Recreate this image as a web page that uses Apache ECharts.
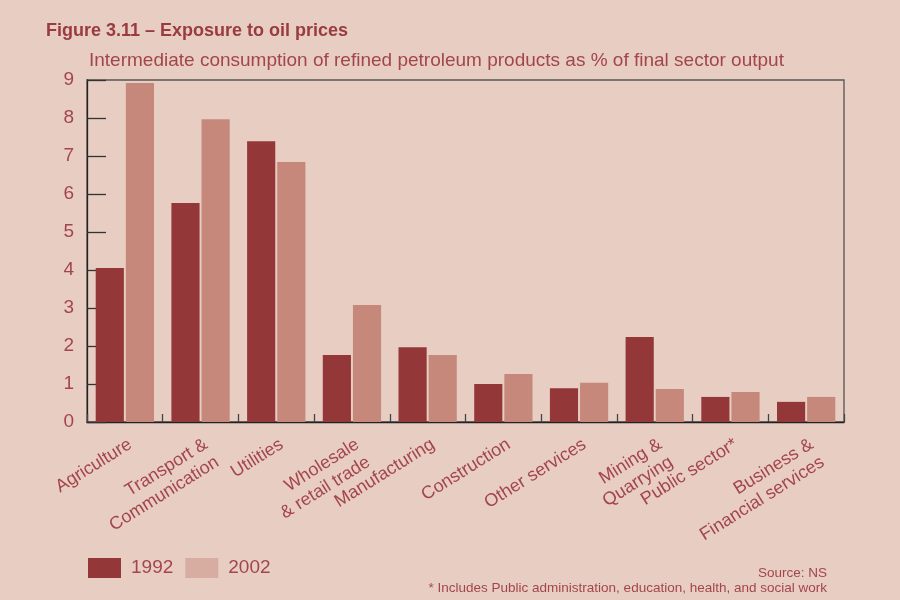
<!DOCTYPE html>
<html>
<head>
<meta charset="utf-8">
<script src="https://cdn.jsdelivr.net/npm/echarts@6/dist/echarts.min.js"></script>
<style>
  html, body { margin: 0; padding: 0; background: #e8cdc3; }
  #chart { width: 900px; height: 600px; }
</style>
</head>
<body>
<div id="chart"></div>
<script>
// Sectors along the category axis
const sectors = [
  'Agriculture',
  'Transport &\nCommunication',
  'Utilities',
  'Wholesale\n& retail trade',
  'Manufacturing',
  'Construction',
  'Other services',
  'Mining &\nQuarrying',
  'Public sector*',
  'Business &\nFinancial services'
];

// Refined petroleum consumption, % of final sector output
const values1992 = [4.05, 5.76, 7.39, 1.76, 1.97, 1.00, 0.89, 2.24, 0.66, 0.53];
const values2002 = [8.92, 7.97, 6.84, 3.08, 1.76, 1.26, 1.03, 0.87, 0.79, 0.66];

const yTicks = [0, 1, 2, 3, 4, 5, 6, 7, 8, 9];

const FONT = '"Liberation Sans", Arial, Helvetica, sans-serif';
const TEXT = '#a3464b';
const DARK_RED = '#943739';
const LIGHT_RED = '#c5887a';

const chart = echarts.init(document.getElementById('chart'));

chart.setOption({
  backgroundColor: '#e8cdc3',
  animation: false,
  textStyle: { fontFamily: FONT },
  title: [
    {
      text: 'Figure 3.11 – Exposure to oil prices',
      left: 41, top: 17,
      textStyle: { fontFamily: FONT, fontSize: 18, fontWeight: 'bold', color: '#993b3f' }
    },
    {
      text: 'Intermediate consumption of refined petroleum products as % of final sector output',
      left: 84, top: 46,
      textStyle: { fontFamily: FONT, fontSize: 19, fontWeight: 'normal', color: TEXT }
    },
    {
      text: 'Source: NS',
      right: 68, top: 561,
      textStyle: { fontFamily: FONT, fontSize: 13.5, fontWeight: 'normal', color: TEXT }
    },
    {
      text: '* Includes Public administration, education, health, and social work',
      right: 68, top: 576,
      textStyle: { fontFamily: FONT, fontSize: 13.5, fontWeight: 'normal', color: TEXT }
    }
  ],
  legend: {
    left: 83, top: 553,
    icon: 'rect',
    itemWidth: 33, itemHeight: 20, itemGap: 12,
    textStyle: { fontFamily: FONT, fontSize: 19, color: TEXT, padding: [5, 0, 0, 5] },
    data: [
      { name: '1992', itemStyle: { color: DARK_RED } },
      { name: '2002', itemStyle: { color: '#d7ada2' } }
    ]
  },
  grid: {
    left: 87, right: 56, top: 80, bottom: 178,
    show: true, borderColor: '#555', borderWidth: 1.3, backgroundColor: 'transparent'
  },
  xAxis: {
    type: 'category',
    data: sectors,
    axisLine: { lineStyle: { color: '#222', width: 1.3 } },
    axisTick: { show: true, inside: true, length: 8, lineStyle: { color: '#444', width: 1.3 } },
    axisLabel: {
      rotate: 32, margin: 12, interval: 0,
      fontFamily: FONT, fontSize: 18, color: TEXT, lineHeight: 21,
      align: 'right', verticalAlign: 'top'
    }
  },
  yAxis: {
    type: 'value',
    min: 0, max: 9, interval: 1,
    axisLine: { show: true, lineStyle: { color: '#222', width: 1.3 } },
    axisTick: { show: true, inside: true, length: 19, lineStyle: { color: '#333', width: 1.3 } },
    splitLine: { show: false },
    axisLabel: {
      margin: 13, fontFamily: FONT, fontSize: 19, color: TEXT,
      formatter: v => (yTicks.includes(v) ? String(v) : '')
    }
  },
  series: [
    {
      name: '1992', type: 'bar', data: values1992,
      itemStyle: { color: DARK_RED },
      barGap: '7%', barCategoryGap: '23%'
    },
    {
      name: '2002', type: 'bar', data: values2002,
      itemStyle: { color: LIGHT_RED },
      barGap: '7%', barCategoryGap: '23%'
    }
  ]
});
</script>
</body>
</html>
